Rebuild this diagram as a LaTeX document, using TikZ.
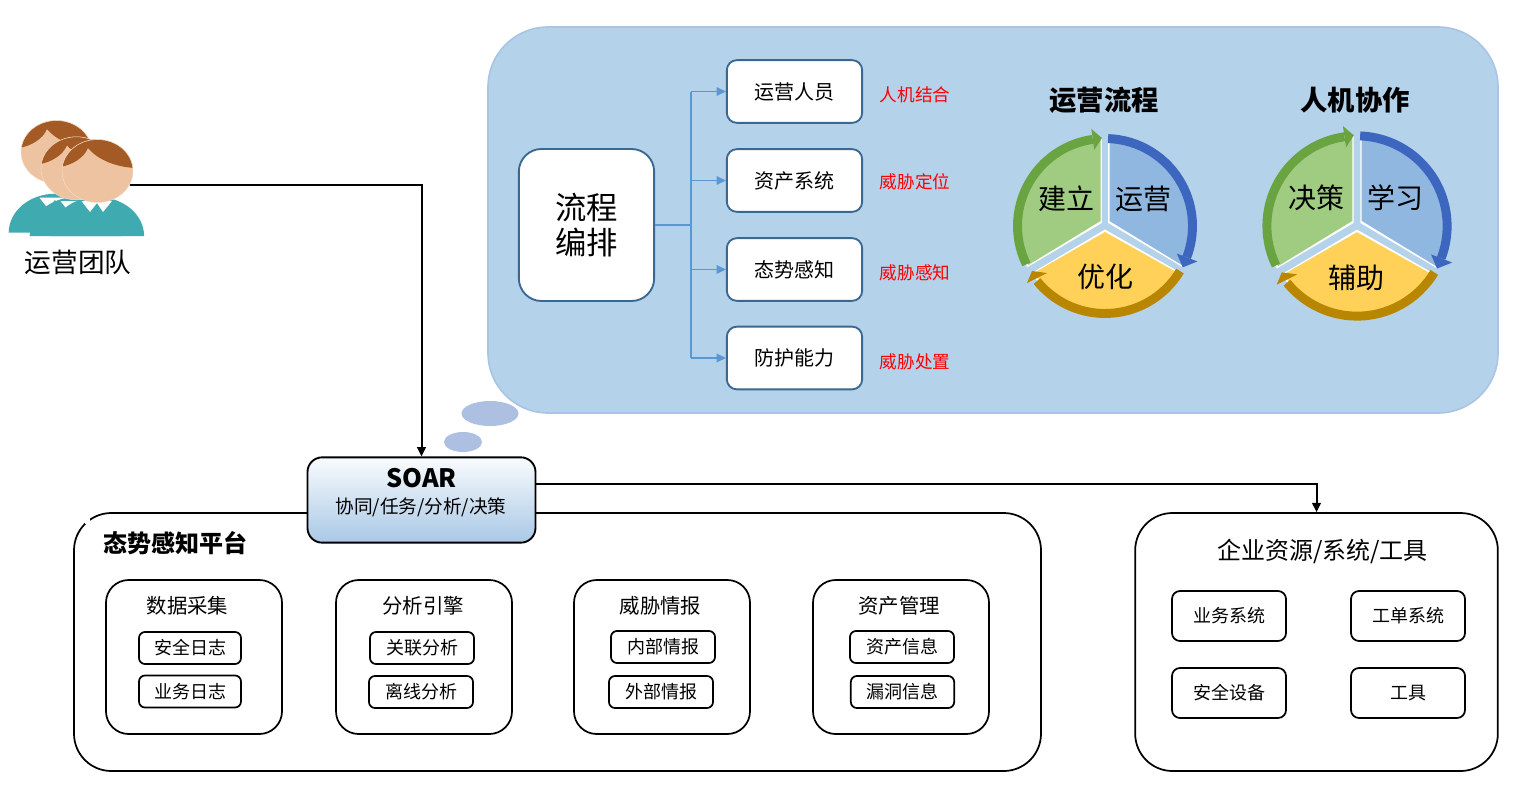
\documentclass[tikz,border=0pt]{standalone}
\usepackage{fontspec}
\setmainfont{Noto Sans CJK SC}
\usetikzlibrary{arrows.meta}

\definecolor{panelblue}{HTML}{B4D2EA}
\definecolor{panelline}{HTML}{A9C4E4}
\definecolor{bubble}{HTML}{ADC0E2}
\definecolor{boxline}{HTML}{3A6891}
\definecolor{treeline}{HTML}{5B97D3}
\definecolor{skin}{HTML}{EDC3A2}
\definecolor{skinedge}{HTML}{F6DCC6}
\definecolor{hair}{HTML}{A35A24}
\definecolor{shirt}{HTML}{3FAAB0}
\definecolor{greenpart}{HTML}{A0CC82}
\definecolor{bluepart}{HTML}{8FB7E0}
\definecolor{yellowpart}{HTML}{FFD158}
\definecolor{greenring}{HTML}{6AA440}
\definecolor{bluering}{HTML}{3D67BE}
\definecolor{yellowring}{HTML}{B88600}
\definecolor{soarbottom}{HTML}{A9C8E6}

\tikzset{
  bluebox/.style={draw=boxline, line width=1.4pt, fill=white, rounded corners=7.5pt, text=black},
  blackbox/.style={draw=black, line width=1.3pt, fill=white},
  redtext/.style={text=red, font=\fontsize{13.2}{15}\selectfont},
  smalltext/.style={font=\fontsize{13.5}{16}\selectfont},
  tree/.style={draw=treeline, line width=0.9pt},
  treearrow/.style={tree, -{Triangle[length=7pt,width=6.5pt]}},
  blackline/.style={draw=black, line width=1.5pt, -{Triangle[length=7pt,width=6.5pt]}},
}

\begin{document}
\begin{tikzpicture}[x=0.75pt,y=-0.75pt]
  \useasboundingbox (0,0) rectangle (1519,785);

  % upper panel
  \draw[fill=panelblue, draw=panelline, line width=1.2pt, rounded corners=45pt] (488,27) rectangle (1498,413);
  \fill[bubble] (490,413.5) ellipse [x radius=28.5, y radius=12.5];
  \fill[bubble] (463,442) ellipse [x radius=19, y radius=10];

  % team
  \foreach \bx/\by in {-42/-3.3, -21/0, 0/0} {
    \fill[shirt] (50.7+\bx,236+\by) arc [start angle=180, end angle=360, x radius=46.7, y radius=39];
    \fill[white] (81.5+\bx,201+\by) -- (90+\bx,212+\by) -- (97+\bx,203+\by) -- (103+\bx,212+\by) -- (112+\bx,201+\by) -- cycle;
  }
  \foreach \hx/\hy in {-41/-19, -21/-2.7, 0/0} {
    \fill[skin] (97.5+\hx,171+\hy) ellipse [x radius=35.5, y radius=31.5];
    \begin{scope}
      \clip (97.5+\hx,171+\hy) ellipse [x radius=35.5, y radius=31.5];
      \fill[hair] (60+\hx,167+\hy) .. controls (72+\hx,165+\hy) and (84+\hx,158+\hy) .. (88+\hx,148+\hy)
        .. controls (98+\hx,160+\hy) and (116+\hx,167+\hy) .. (135+\hx,168+\hy) -- (135+\hx,135+\hy) -- (60+\hx,135+\hy) -- cycle;
    \end{scope}
    \draw[skinedge, line width=0.4pt] (97.5+\hx,171+\hy) ellipse [x radius=35.5, y radius=31.5];
  }
  \coordinate (teamout) at (130,185);
  \node[font=\fontsize{20}{24}\selectfont] (teamlabel) at (78,262) {运营团队};

  % orchestration
  \node[bluebox, rounded corners=17pt, minimum width=101.5pt, minimum height=114pt, align=center, font=\fontsize{23.5}{26.5}\selectfont] (flow) at (586.5,225) {流程\\编排};
  \coordinate (fork) at (691,225);
  \foreach \nm/\yy/\txt/\rd/\ry in {people/91.5/运营人员/人机结合/95, asset/180.5/资产系统/威胁定位/182, aware/269.5/态势感知/威胁感知/273, defend/358/防护能力/威胁处置/362} {
    \node[bluebox, minimum width=101.5pt, minimum height=47pt, font=\fontsize{15}{18}\selectfont] (\nm) at (794.5,\yy) {\txt};
    \node[redtext] (\nm note) at (915,\ry) {\rd};
    \draw[treearrow] (fork |- \nm) -- (\nm);
  }
  \draw[tree] (flow) -- (fork);
  \draw[tree] (fork |- people) -- (fork |- defend);

  % two cycles
  \foreach \cx/\cy/\sc in {1105/226/1, 1357/226/1.03} {
    \begin{scope}[shift={(\cx,\cy)}, scale=\sc]
      \fill[white] (-3.2,-3) -- (-3.2,-88) arc [start angle=268, end angle=152, radius=88] -- cycle;
      \fill[white] (3.2,-3) -- (3.2,-88) arc [start angle=272, end angle=388, radius=88] -- cycle;
      \fill[white] (0,3.5) -- (76,47) arc [start angle=32, end angle=148, radius=88] -- cycle;
      \fill[greenpart] (-4.5,-5) -- (-4.5,-86) arc [start angle=267, end angle=153, radius=86] -- cycle;
      \fill[bluepart] (4.5,-5) -- (4.5,-86) arc [start angle=273, end angle=387, radius=86] -- cycle;
      \fill[yellowpart] (0,6) -- (73,47) arc [start angle=33, end angle=147, radius=86] -- cycle;
      % rings
      \draw[greenring, line width=6.7pt] (154:87.5) arc [start angle=154, end angle=262, radius=87.5];
      \fill[greenring] (262:98) -- (268:88) -- (262:77) -- cycle;
      \draw[bluering, line width=6.7pt] (272:87.5) arc [start angle=272, end angle=381, radius=87.5];
      \fill[bluering] (381:77) -- (388:88) -- (381:99) -- cycle;
      \draw[yellowring, line width=6.7pt] (31:87.5) arc [start angle=31, end angle=141, radius=87.5];
      \fill[yellowring] (-78,57) -- (-73,45) -- (-58,47) -- cycle;
    \end{scope}
  }
  \foreach \nm/\xx/\yy/\txt in {titlea/1104/100/运营流程, titleb/1355/100/人机协作} {
    \node[font=\fontsize{20.5}{24}\selectfont\bfseries] (\nm) at (\xx,\yy) {\txt};
  }
  \foreach \nm/\xx/\yy/\txt in {build/1066/199/建立, operate/1143/199/运营, improve/1105/277/优化, decide/1316/198/决策, learn/1395/198/学习, assist/1356/278/辅助} {
    \node[font=\fontsize{21}{24}\selectfont] (\nm) at (\xx,\yy) {\txt};
  }

  % platform
  \draw[blackbox, rounded corners=28pt] (74,513) rectangle (1041,771);
  \fill[white] (85,517) rectangle (90,524);
  \node[font=\fontsize{18}{22}\selectfont\bfseries] (platform) at (175,543) {态势感知平台};
  \foreach \nm/\xx/\tx/\ttl in {collect/194/187.5/数据采集, engine/424/423/分析引擎, intel/662/660.5/威胁情报, assets/901/899/资产管理} {
    \draw[blackbox, rounded corners=17pt] (\xx-88,580) rectangle (\xx+88,734);
    \node[font=\fontsize{15.3}{18}\selectfont] (\nm) at (\tx,605.5) {\ttl};
  }
  \foreach \nm/\xx/\yy/\bw/\txt in {loga/190/648/76.5/安全日志, logb/190/691.5/76.5/业务日志, corr/422/648/78/关联分析, offl/421/692/78/离线分析, inner/663/647/78/内部情报, outer/661/692/78/外部情报, info/902/647/78/资产信息, vuln/902.5/692/77.5/漏洞信息} {
    \node[blackbox, rounded corners=4.5pt, minimum width=\bw pt, minimum height=24pt, smalltext, inner sep=0pt] (\nm) at (\xx,\yy) {\txt};
  }

  % soar
  \node[draw=black, line width=1.4pt, rounded corners=11pt, top color=white!92!panelblue, bottom color=soarbottom, minimum width=171pt, minimum height=64pt] (soar) at (421.5,500) {};
  \node[font=\fontsize{19}{22}\selectfont\bfseries] (soartitle) at (421.5,478.5) {SOAR};
  \node[font=\fontsize{14}{17}\selectfont] (soarsub) at (421,507) {协同/任务/分析/决策};

  % resources
  \node[blackbox, rounded corners=28pt, minimum width=272pt, minimum height=193.5pt] (res) at (1316.5,642) {};
  \node[font=\fontsize{18}{22}\selectfont] (restitle) at (1322.5,551) {企业资源/系统/工具};
  \foreach \nm/\xx/\yy/\txt in {biz/1229/616/业务系统, ticket/1408/616/工单系统, secdev/1229/693/安全设备, tools/1408/693/工具} {
    \node[blackbox, rounded corners=6pt, minimum width=85.5pt, minimum height=37.5pt, smalltext, inner sep=0pt] (\nm) at (\xx,\yy) {\txt};
  }

  % connectors
  \draw[blackline] (teamout) -| (soar.north);
  \coordinate (soarout) at (536,484);
  \draw[blackline] (soarout) -| (res.north);
\end{tikzpicture}
\end{document}
